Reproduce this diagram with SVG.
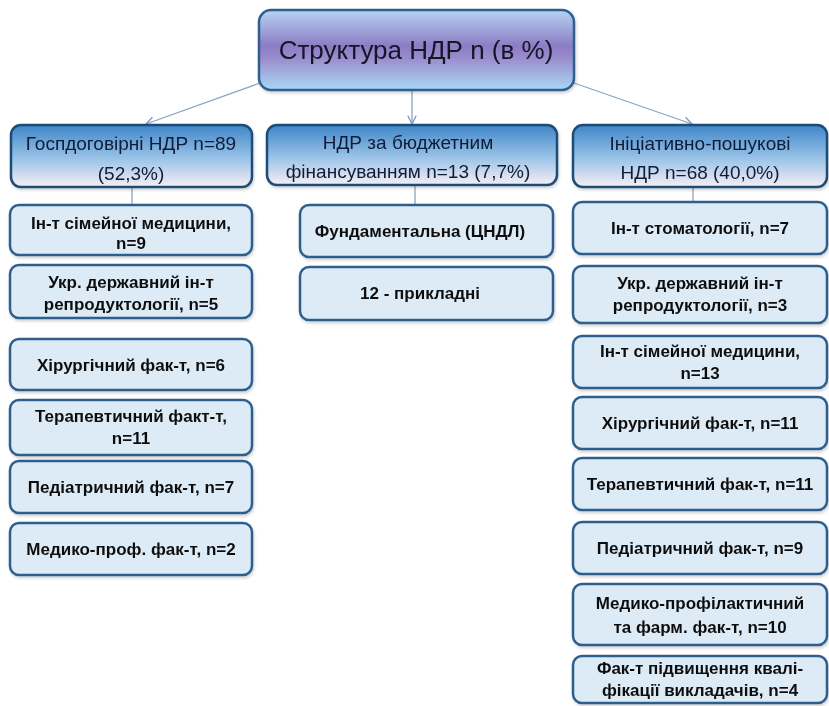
<svg xmlns="http://www.w3.org/2000/svg" width="829" height="706" viewBox="0 0 829 706">
<defs>
<linearGradient id="gTitle" x1="0" y1="0" x2="0" y2="1">
<stop offset="0" stop-color="#b6d4f2"/>
<stop offset="0.45" stop-color="#8c7cc4"/>
<stop offset="0.6" stop-color="#9a8ccc"/>
<stop offset="1" stop-color="#a8d8f4"/>
</linearGradient>
<linearGradient id="gHead" x1="0" y1="0" x2="0" y2="1">
<stop offset="0" stop-color="#3f86c8"/>
<stop offset="0.55" stop-color="#9cc4e8"/>
<stop offset="1" stop-color="#f6eef2"/>
</linearGradient>
<marker id="arr" viewBox="0 0 10 10" refX="9" refY="5" markerWidth="8" markerHeight="8" orient="auto-start-reverse">
<path d="M1,1 L9,5 L1,9" fill="none" stroke="#7e9cc0" stroke-width="1.3"/>
</marker>
<filter id="sh" x="-5%" y="-5%" width="110%" height="120%">
<feDropShadow dx="1" dy="2" stdDeviation="1.5" flood-color="#000" flood-opacity="0.18"/>
</filter>
</defs>
<style>
.title{fill:url(#gTitle);stroke:#2d5f8f;stroke-width:2.5}
.head{fill:url(#gHead);stroke:#1f4e79;stroke-width:2.5}
.child{fill:#dcebf6;stroke:#2e5f8c;stroke-width:2.5}
.tt{font-family:"Liberation Sans",Arial,sans-serif;font-size:26px;fill:#141428;text-anchor:middle}
.ht{font-family:"Liberation Sans",Arial,sans-serif;font-size:19px;fill:#0f1d38;text-anchor:middle}
.ct{font-family:"Liberation Sans",Arial,sans-serif;font-size:17px;font-weight:bold;fill:#111;text-anchor:middle}
.conn{stroke:#8aa6c6;stroke-width:1.3;fill:none}
</style>
<rect width="829" height="706" fill="#ffffff"/>
<g id="connectors">
<line class="conn" x1="260" y1="83" x2="146" y2="124" marker-end="url(#arr)"/>
<line class="conn" x1="412" y1="90" x2="412" y2="124" marker-end="url(#arr)"/>
<line class="conn" x1="574" y1="83" x2="692" y2="124" marker-end="url(#arr)"/>
<line class="conn" x1="132" y1="187" x2="132" y2="205"/>
<line class="conn" x1="415" y1="185" x2="415" y2="205"/>
<line class="conn" x1="693" y1="187" x2="693" y2="202"/>
</g>
<g id="title" filter="url(#sh)">
<rect class="title" x="259" y="10" width="315" height="80" rx="12"/>
<text class="tt" x="416" y="59">Структура НДР n (в %)</text>
</g>
<g id="h-left" filter="url(#sh)">
<rect class="head" x="11" y="125" width="241" height="62" rx="10"/>
<text class="ht" x="131" y="150">Госпдоговірні НДР n=89</text>
<text class="ht" x="131" y="180">(52,3%)</text>
</g>
<g id="h-mid" filter="url(#sh)">
<rect class="head" x="267" y="125" width="290" height="60" rx="10"/>
<text class="ht" x="408" y="149">НДР за бюджетним</text>
<text class="ht" x="408" y="178">фінансуванням n=13 (7,7%)</text>
</g>
<g id="h-right" filter="url(#sh)">
<rect class="head" x="573" y="125" width="254" height="62" rx="10"/>
<text class="ht" x="700" y="150">Ініціативно-пошукові</text>
<text class="ht" x="700" y="179">НДР n=68 (40,0%)</text>
</g>
<g id="l1" filter="url(#sh)"><rect class="child" x="10" y="205" width="242" height="50" rx="9"/><text class="ct" x="131" y="229">Ін-т сімейної медицини,</text><text class="ct" x="131" y="249">n=9</text></g>
<g id="l2" filter="url(#sh)"><rect class="child" x="10" y="265" width="242" height="53" rx="9"/><text class="ct" x="131" y="288">Укр. державний ін-т</text><text class="ct" x="131" y="310">репродуктології, n=5</text></g>
<g id="l3" filter="url(#sh)"><rect class="child" x="10" y="339" width="242" height="51" rx="9"/><text class="ct" x="131" y="371">Хірургічний фак-т, n=6</text></g>
<g id="l4" filter="url(#sh)"><rect class="child" x="10" y="400" width="242" height="55" rx="9"/><text class="ct" x="131" y="422">Терапевтичний факт-т,</text><text class="ct" x="131" y="444">n=11</text></g>
<g id="l5" filter="url(#sh)"><rect class="child" x="10" y="461" width="242" height="52" rx="9"/><text class="ct" x="131" y="493">Педіатричний фак-т, n=7</text></g>
<g id="l6" filter="url(#sh)"><rect class="child" x="10" y="523" width="242" height="52" rx="9"/><text class="ct" x="131" y="555">Медико-проф. фак-т, n=2</text></g>
<g id="m1" filter="url(#sh)"><rect class="child" x="300" y="205" width="253" height="52" rx="9"/><text class="ct" x="420" y="237">Фундаментальна  (ЦНДЛ)</text></g>
<g id="m2" filter="url(#sh)"><rect class="child" x="300" y="267" width="253" height="53" rx="9"/><text class="ct" x="420" y="299">12  - прикладні</text></g>
<g id="r1" filter="url(#sh)"><rect class="child" x="573" y="202" width="254" height="52" rx="9"/><text class="ct" x="700" y="234">Ін-т стоматології, n=7</text></g>
<g id="r2" filter="url(#sh)"><rect class="child" x="573" y="266" width="254" height="57" rx="9"/><text class="ct" x="700" y="289">Укр. державний ін-т</text><text class="ct" x="700" y="311">репродуктології, n=3</text></g>
<g id="r3" filter="url(#sh)"><rect class="child" x="573" y="336" width="254" height="52" rx="9"/><text class="ct" x="700" y="357">Ін-т  сімейної медицини,</text><text class="ct" x="700" y="379">n=13</text></g>
<g id="r4" filter="url(#sh)"><rect class="child" x="573" y="397" width="254" height="52" rx="9"/><text class="ct" x="700" y="429">Хірургічний фак-т, n=11</text></g>
<g id="r5" filter="url(#sh)"><rect class="child" x="573" y="458" width="254" height="52" rx="9"/><text class="ct" x="700" y="490">Терапевтичний фак-т, n=11</text></g>
<g id="r6" filter="url(#sh)"><rect class="child" x="573" y="522" width="254" height="52" rx="9"/><text class="ct" x="700" y="554">Педіатричний фак-т, n=9</text></g>
<g id="r7" filter="url(#sh)"><rect class="child" x="573" y="584" width="254" height="61" rx="9"/><text class="ct" x="700" y="609">Медико-профілактичний</text><text class="ct" x="700" y="633">та фарм. фак-т, n=10</text></g>
<g id="r8" filter="url(#sh)"><rect class="child" x="573" y="656" width="254" height="47" rx="9"/><text class="ct" x="700" y="674">Фак-т підвищення квалі-</text><text class="ct" x="700" y="696">фікації викладачів,  n=4</text></g>
</svg>
